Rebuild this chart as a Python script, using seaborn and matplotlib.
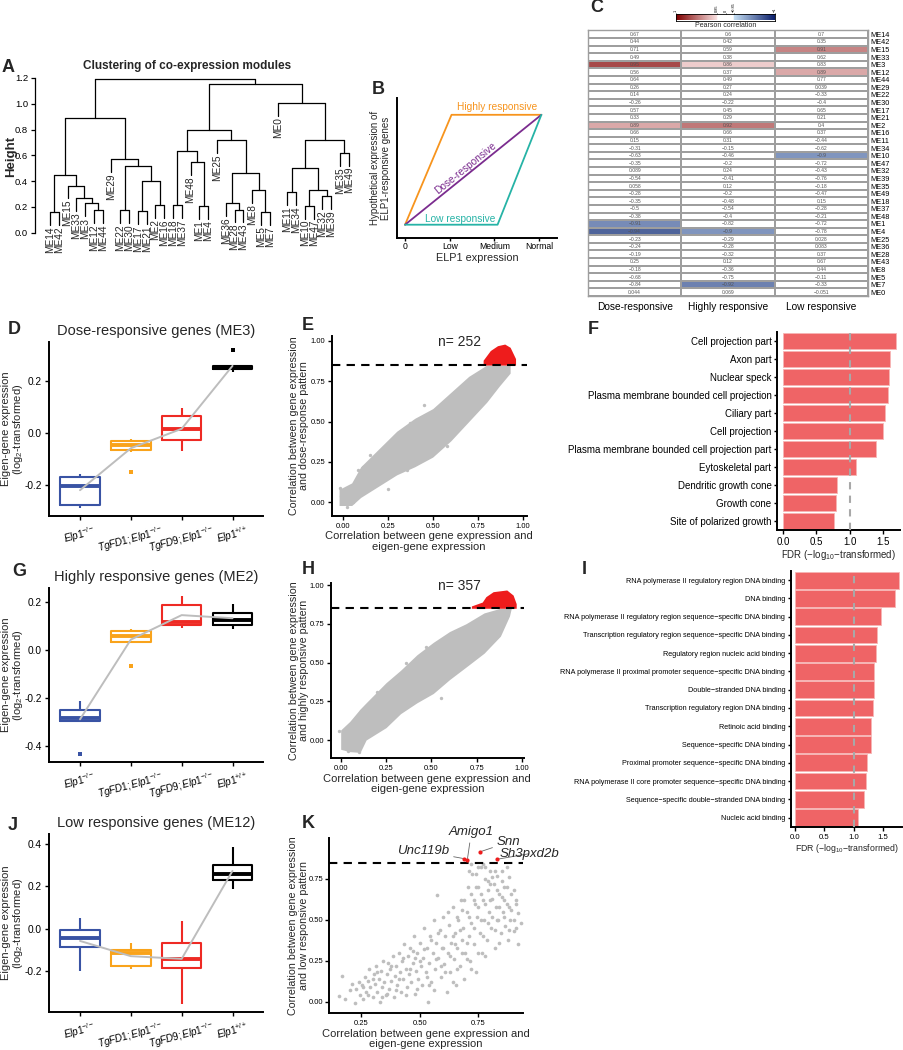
import numpy as np
import pandas as pd
import matplotlib.pyplot as plt
import seaborn as sns
from matplotlib.colors import LinearSegmentedColormap

# ---------------- data ----------------
# A: dendrogram of module eigengenes (leaf order + merges with heights)
leaf_order = ['ME14', 'ME42', 'ME15', 'ME33', 'ME3', 'ME12', 'ME44', 'ME29', 'ME22', 'ME30',
              'ME17', 'ME21', 'ME2', 'ME16', 'ME18', 'ME37', 'ME48', 'ME1', 'ME4', 'ME25',
              'ME36', 'ME28', 'ME43', 'ME8', 'ME5', 'ME7', 'ME0', 'ME11', 'ME34', 'ME10',
              'ME47', 'ME32', 'ME39', 'ME35', 'ME49']
merges = [('ME14', 'ME42', 0.16), ('ME12', 'ME44', 0.175), ('ME3', 'm1', 0.227),
          ('ME33', 'm2', 0.27), ('ME15', 'm3', 0.366), ('m0', 'm4', 0.45),
          ('ME22', 'ME30', 0.175), ('ME17', 'ME21', 0.168), ('ME2', 'ME16', 0.214),
          ('m7', 'm8', 0.40), ('m6', 'm9', 0.52), ('ME29', 'm10', 0.568),
          ('m5', 'm11', 0.89), ('ME18', 'ME37', 0.214), ('ME1', 'ME4', 0.21),
          ('ME48', 'm14', 0.55), ('m13', 'm15', 0.63), ('ME28', 'ME43', 0.18),
          ('ME36', 'm17', 0.232), ('ME5', 'ME7', 0.163), ('ME8', 'm19', 0.33),
          ('m18', 'm20', 0.46), ('ME25', 'm21', 0.72), ('m16', 'm22', 0.795),
          ('ME11', 'ME34', 0.315), ('ME10', 'ME47', 0.21), ('ME32', 'ME39', 0.284),
          ('m25', 'm26', 0.335), ('m24', 'm27', 0.503), ('ME35', 'ME49', 0.62),
          ('m28', 'm29', 0.72), ('ME0', 'm30', 1.006), ('m23', 'm31', 1.157),
          ('m12', 'm32', 1.19)]

# B: hypothetical response patterns
elp1_levels = ['0', 'Low', 'Medium', 'Normal']
highly_x, highly_y = [0, 1.04, 3.05], [0.095, 0.88, 0.88]
dose_x, dose_y = [0, 3.05], [0.095, 0.88]
low_x, low_y = [0, 2.07, 3.05], [0.095, 0.095, 0.88]

# C: module / pattern Pearson correlations
heat_modules = ['ME14', 'ME42', 'ME15', 'ME33', 'ME3', 'ME12', 'ME44', 'ME29', 'ME22', 'ME30',
                'ME17', 'ME21', 'ME2', 'ME16', 'ME11', 'ME34', 'ME10', 'ME47', 'ME32', 'ME39',
                'ME35', 'ME49', 'ME18', 'ME37', 'ME48', 'ME1', 'ME4', 'ME25', 'ME36', 'ME28',
                'ME43', 'ME8', 'ME5', 'ME7', 'ME0']
patterns = ['Dose-responsive', 'Highly responsive', 'Low responsive']
corr_dose = [0.67, 0.44, 0.71, 0.49, 0.95, 0.56, 0.64, 0.26, 0.14, -0.26, 0.57, 0.33, 0.89, 0.66,
             0.15, -0.31, -0.63, -0.35, 0.089, -0.54, 0.058, -0.28, -0.35, -0.5, -0.38, -0.91,
             -0.94, -0.23, -0.24, -0.19, 0.25, -0.18, -0.68, -0.84, 0.044]
corr_highly = [0.6, 0.42, 0.59, 0.38, 0.86, 0.37, 0.49, 0.27, 0.24, -0.22, 0.45, 0.29, 0.92, 0.66,
               0.31, -0.15, -0.46, -0.2, 0.24, -0.41, 0.12, -0.2, -0.48, -0.54, -0.4, -0.82,
               -0.9, -0.29, -0.28, -0.32, 0.12, -0.36, -0.75, -0.92, 0.069]
corr_low = [0.7, 0.35, 0.91, 0.62, 0.83, 0.89, 0.77, 0.039, -0.33, -0.4, 0.65, 0.21, 0.4, 0.37,
            -0.44, -0.62, -0.9, -0.72, -0.43, -0.76, -0.18, -0.47, 0.15, -0.28, -0.21, -0.72,
            -0.78, 0.028, 0.083, 0.37, 0.67, 0.44, -0.11, -0.33, -0.051]

# D, G, J: eigengene expression per genotype
genotypes = ['Elp1-/-', 'TgFD1;Elp1-/-', 'TgFD9;Elp1-/-', 'Elp1+/+']
geno_labels = [r'$\mathit{Elp1}^{-/-}$', r'$\mathit{TgFD1;Elp1}^{-/-}$',
               r'$\mathit{TgFD9;Elp1}^{-/-}$', r'$\mathit{Elp1}^{+/+}$']
me3_expr = [[-0.29, -0.277, -0.204, -0.17, -0.158],
            [-0.149, -0.072, -0.055, -0.047, -0.035, -0.027, -0.024],
            [-0.068, -0.027, 0.015, 0.067, 0.095],
            [0.236, 0.243, 0.247, 0.25, 0.254, 0.258, 0.32]]
me2_expr = [[-0.43, -0.30, -0.29, -0.28, -0.26, -0.24, -0.21],
            [-0.065, 0.03, 0.04, 0.06, 0.07, 0.09, 0.09],
            [0.095, 0.105, 0.12, 0.19, 0.225],
            [0.09, 0.105, 0.125, 0.155, 0.195]]
me12_expr = [[-0.197, -0.086, -0.044, -0.005, 0.05],
             [-0.189, -0.173, -0.114, -0.098, -0.067],
             [-0.353, -0.184, -0.142, -0.064, 0.039],
             [0.19, 0.23, 0.258, 0.303, 0.386]]

# E, H: dense gene clouds (edges)
e_x = [-0.02, 0.05, 0.1, 0.2, 0.3, 0.4, 0.5, 0.6, 0.7, 0.8, 0.87, 0.93]
e_lo = [-0.02, -0.02, 0.03, 0.1, 0.17, 0.22, 0.28, 0.38, 0.5, 0.62, 0.72, 0.8]
e_hi = [0.08, 0.12, 0.22, 0.33, 0.44, 0.52, 0.58, 0.68, 0.78, 0.85, 0.85, 0.85]
e_red_x = [0.78, 0.82, 0.86, 0.9, 0.93, 0.96]
e_red_hi = [0.88, 0.94, 0.97, 0.98, 0.96, 0.89]
e_pts_x = [-0.015, -0.01, 0.022, 0.03, 0.06, 0.087, 0.115, 0.15, 0.355, 0.374, 0.58, 0.45, 0.25]
e_pts_y = [0.09, 0.04, -0.03, 0.015, 0.0, 0.2, 0.22, 0.295, 0.2, 0.49, 0.35, 0.6, 0.08]

h_x = [0.0, 0.05, 0.107, 0.14, 0.25, 0.33, 0.42, 0.51, 0.6, 0.69, 0.79, 0.88, 0.93, 0.94]
h_lo = [-0.06, -0.075, -0.08, 0.0, 0.08, 0.17, 0.24, 0.3, 0.39, 0.47, 0.56, 0.67, 0.8, 0.85]
h_hi = [0.065, 0.12, 0.2, 0.24, 0.37, 0.45, 0.55, 0.63, 0.7, 0.75, 0.82, 0.85, 0.85, 0.85]
h_red_x = [0.72, 0.78, 0.8, 0.84, 0.915, 0.95, 0.967]
h_red_hi = [0.865, 0.89, 0.925, 0.957, 0.968, 0.935, 0.88]
h_pts_x = [-0.01, 0.02, 0.04, 0.1, 0.11, 0.2, 0.36, 0.47, 0.55]
h_pts_y = [0.06, -0.04, -0.07, -0.08, 0.19, 0.31, 0.5, 0.6, 0.27]

# K: low responsive genes
k_x = [0.155, 0.17, 0.18, 0.205, 0.21, 0.225, 0.23, 0.24, 0.245, 0.255, 0.26, 0.265, 0.27, 0.28,
       0.285, 0.29, 0.3, 0.305, 0.31, 0.315, 0.32, 0.325, 0.33, 0.335, 0.34, 0.345, 0.35, 0.355,
       0.36, 0.365, 0.37, 0.375, 0.38, 0.385, 0.39, 0.395, 0.4, 0.405, 0.41, 0.415, 0.42, 0.425,
       0.43, 0.435, 0.44, 0.445, 0.45, 0.455, 0.46, 0.465, 0.47, 0.475, 0.48, 0.485, 0.49, 0.495,
       0.5, 0.505, 0.51, 0.515, 0.52, 0.525, 0.53, 0.535, 0.54, 0.545, 0.55, 0.555, 0.56, 0.565,
       0.57, 0.575, 0.58, 0.585, 0.59, 0.595, 0.6, 0.605, 0.61, 0.615, 0.62, 0.625, 0.63, 0.635,
       0.64, 0.645, 0.65, 0.655, 0.66, 0.665, 0.67, 0.675, 0.68, 0.685, 0.69, 0.695, 0.7, 0.705,
       0.71, 0.715, 0.72, 0.725, 0.73, 0.735, 0.74, 0.745, 0.75, 0.755, 0.76, 0.765, 0.77, 0.775,
       0.78, 0.785, 0.79, 0.795, 0.8, 0.805, 0.81, 0.815, 0.82, 0.825, 0.83, 0.835, 0.84, 0.845,
       0.85, 0.855, 0.86, 0.865, 0.87, 0.875, 0.88, 0.885, 0.89, 0.9, 0.91, 0.92]
k_y = [0.035, 0.16, 0.02, 0.07, 0.11, -0.01, 0.08, 0.12, 0.04, 0.1, 0.02, 0.15, 0.06, 0.13,
       0.2, 0.09, 0.03, 0.17, 0.11, 0.22, 0.06, 0.14, 0.0, 0.19, 0.09, 0.25, 0.12, 0.04,
       0.17, 0.24, 0.08, 0.2, 0.13, 0.28, 0.03, 0.16, 0.22, 0.1, 0.3, 0.18, 0.06, 0.25,
       0.14, 0.35, 0.2, 0.09, 0.28, 0.17, 0.33, 0.12, 0.24, 0.4, 0.05, 0.19, 0.3, 0.14,
       0.36, 0.22, 0.1, 0.27, 0.45, 0.18, 0.33, 0.0, 0.24, 0.4, 0.12, 0.3, 0.5, 0.2,
       0.36, 0.65, 0.27, 0.44, 0.15, 0.33, 0.52, 0.23, 0.4, 0.06, 0.3, 0.47, 0.18, 0.36,
       0.58, 0.26, 0.42, 0.1, 0.33, 0.5, 0.22, 0.62, 0.38, 0.45, 0.14, 0.3, 0.55, 0.7,
       0.4, 0.25, 0.48, 0.78, 0.35, 0.6, 0.18, 0.52, 0.7, 0.42, 0.82, 0.3, 0.62, 0.5,
       0.75, 0.38, 0.68, 0.55, 0.8, 0.45, 0.63, 0.72, 0.33, 0.58, 0.77, 0.5, 0.66, 0.42,
       0.74, 0.55, 0.62, 0.46, 0.7, 0.38, 0.58, 0.5, 0.66, 0.43, 0.6, 0.35]
k_x_more = [0.36, 0.38, 0.41, 0.43, 0.44, 0.47, 0.49, 0.5, 0.52, 0.53, 0.55, 0.56, 0.57, 0.58,
            0.6, 0.61, 0.62, 0.63, 0.64, 0.65, 0.66, 0.67, 0.68, 0.69, 0.7, 0.7, 0.71, 0.72,
            0.72, 0.73, 0.74, 0.75, 0.75, 0.76, 0.77, 0.77, 0.78, 0.78, 0.79, 0.8, 0.8, 0.81,
            0.82, 0.82, 0.83, 0.84, 0.84, 0.85, 0.86, 0.86, 0.87, 0.88, 0.88, 0.89, 0.9, 0.9,
            0.91, 0.91, 0.92, 0.93, 0.3, 0.28, 0.26, 0.32, 0.34, 0.4, 0.46, 0.48, 0.54, 0.59,
            0.64, 0.66, 0.68, 0.73, 0.76, 0.79, 0.81, 0.83, 0.85, 0.87, 0.74, 0.71, 0.72, 0.75,
            0.78]
k_y_more = [0.05, 0.22, 0.14, 0.27, 0.04, 0.31, 0.08, 0.25, 0.32, 0.15, 0.38, 0.07, 0.26, 0.42,
            0.33, 0.18, 0.55, 0.28, 0.4, 0.35, 0.2, 0.44, 0.3, 0.62, 0.36, 0.26, 0.52, 0.66,
            0.2, 0.45, 0.78, 0.3, 0.58, 0.66, 0.4, 0.84, 0.6, 0.28, 0.48, 0.72, 0.62, 0.52,
            0.8, 0.44, 0.68, 0.58, 0.36, 0.8, 0.52, 0.7, 0.6, 0.44, 0.76, 0.56, 0.5, 0.68,
            0.45, 0.62, 0.54, 0.48, 0.14, 0.04, 0.09, 0.18, 0.03, 0.07, 0.2, 0.27, 0.1, 0.22,
            0.12, 0.52, 0.56, 0.62, 0.5, 0.74, 0.76, 0.5, 0.64, 0.82, 0.7, 0.8, 0.84, 0.82,
            0.82]
k_red_x = [0.689, 0.703, 0.756, 0.829]
k_red_y = [0.874, 0.866, 0.915, 0.87]
k_genes = ['Unc119b', 'Amigo1', 'Snn', 'Sh3pxd2b']
k_label_x = [0.514, 0.72, 0.88, 0.97]
k_label_y = [0.92, 1.035, 0.975, 0.905]

# F, I: GO enrichment
f_terms = ['Cell projection part', 'Axon part', 'Nuclear speck',
           'Plasma membrane bounded cell projection', 'Ciliary part', 'Cell projection',
           'Plasma membrane bounded cell projection part', 'Eytoskeletal part',
           'Dendritic growth cone', 'Growth cone', 'Site of polarized growth']
f_fdr = [1.69, 1.61, 1.585, 1.575, 1.525, 1.5, 1.39, 1.09, 0.81, 0.80, 0.765]
i_terms = ['RNA polymerase II regulatory region DNA binding', 'DNA binding',
           'RNA polymerase II regulatory region sequence\u2212specific DNA binding',
           'Transcription regulatory region sequence\u2212specific DNA binding',
           'Regulatory region nucleic acid binding',
           'RNA polymerase II proximal promoter sequence\u2212specific DNA binding',
           'Double\u2212stranded DNA binding', 'Transcription regulatory region DNA binding',
           'Retinoic acid binding', 'Sequence\u2212specific DNA binding',
           'Proximal promoter sequence\u2212specific DNA binding',
           'RNA polymerase II core promoter sequence\u2212specific DNA binding',
           'Sequence\u2212specific double\u2212stranded DNA binding', 'Nucleic acid binding']
i_fdr = [1.77, 1.70, 1.47, 1.39, 1.38, 1.35, 1.34, 1.33, 1.30, 1.30, 1.22, 1.21, 1.18, 1.07]

# ---------------- style ----------------
sns.set_theme(style='ticks')
plt.rcParams['font.family'] = ['Liberation Sans', 'DejaVu Sans']
plt.rcParams['mathtext.fontset'] = 'custom'
plt.rcParams['mathtext.rm'] = 'Liberation Sans'
plt.rcParams['mathtext.it'] = 'Liberation Sans:italic'
plt.rcParams['axes.edgecolor'] = 'black'
plt.rcParams['xtick.color'] = 'black'
plt.rcParams['ytick.color'] = 'black'

box_colors = ['#3953A4', '#F9A31B', '#EE2A24', '#000000']
bar_color = '#EF6466'
cloud_grey = '#BEBEBE'

W, H = 904, 1050
fig = plt.figure(figsize=(W / 100, H / 100), dpi=100)


def add_ax(x0, y0, x1, y1):
    return fig.add_axes([x0 / W, 1 - y1 / H, (x1 - x0) / W, (y1 - y0) / H])


def classic(ax, labelsize=7):
    sns.despine(ax=ax)
    for s in ['left', 'bottom']:
        ax.spines[s].set_linewidth(1.4)
        ax.spines[s].set_color('black')
    ax.tick_params(length=3, width=1, labelsize=labelsize, pad=2)


def letter(x, y, s):
    fig.text(x / W, 1 - y / H, s, fontsize=13, fontweight='bold', va='center', ha='left')


# ---------------- A: dendrogram ----------------
axA = add_ax(35, 75.4, 362, 265)
pos = {name: i for i, name in enumerate(leaf_order)}
heights = {}
hang = 0.1
for k, (a, b, h) in enumerate(merges):
    for c in (a, b):
        bottom = heights.get(c, h - hang)
        axA.plot([pos[c], pos[c]], [bottom, h], color='black', lw=0.9)
        if c in leaf_order:
            axA.text(pos[c], bottom - 0.01, c, rotation=90, ha='center', va='top',
                     fontsize=7.3, clip_on=False)
    axA.plot([pos[a], pos[b]], [h, h], color='black', lw=0.9)
    pos['m%d' % k] = (pos[a] + pos[b]) / 2
    heights['m%d' % k] = h
axA.set_xlim(-1.7, 35.5)
axA.set_ylim(-0.25, 1.22)
sns.despine(ax=axA, bottom=True)
axA.spines['left'].set_bounds(0, 1.2)
axA.spines['left'].set_linewidth(0.9)
axA.set_xticks([])
axA.set_yticks(np.arange(0, 1.21, 0.2))
axA.set_yticklabels(['%.1f' % v for v in np.arange(0, 1.21, 0.2)])
axA.tick_params(axis='y', labelsize=6.8, length=3, width=0.9, pad=2)
axA.set_ylabel('Height', fontsize=9.5, fontweight='bold')
axA.yaxis.set_label_coords(-0.056, 0.57)
fig.text(187 / W, 1 - 66 / H, 'Clustering of co-expression modules', fontsize=8.5,
         fontweight='bold', ha='center', va='center')
letter(2, 67, 'A')

# ---------------- B: response patterns ----------------
axB = add_ax(397, 98, 557, 238)
axB.plot(highly_x, highly_y, color='#F7941D', lw=1.3)
axB.plot(dose_x, dose_y, color='#7B2C8F', lw=1.3)
axB.plot(low_x, low_y, color='#26B3A6', lw=1.3)
axB.set_xlim(-0.18, 3.4)
axB.set_ylim(0, 1)
classic(axB, labelsize=6.2)
axB.set_yticks([])
axB.set_xticks(range(4))
axB.set_xticklabels(elp1_levels)
axB.tick_params(axis='x', length=2, pad=1)
axB.set_xlabel('ELP1 expression', fontsize=7.8, labelpad=1)
axB.set_ylabel('Hypothetical expression of\nELP1-responsive genes', fontsize=7, labelpad=4)
axB.text(2.05, 0.935, 'Highly responsive', color='#F7941D', fontsize=7.3, ha='center', va='center')
axB.text(1.23, 0.136, 'Low responsive', color='#26B3A6', fontsize=7.3, ha='center', va='center')
axB.text(1.36, 0.5, 'Dose-responsive', color='#7B2C8F', fontsize=7.3, ha='center', va='center',
         rotation=39)
letter(372, 90, 'B')

# ---------------- C: heatmap ----------------
axC = add_ax(588, 30.5, 868, 296)
corr_df = pd.DataFrame({patterns[0]: corr_dose, patterns[1]: corr_highly, patterns[2]: corr_low},
                       index=heat_modules)
annot = corr_df.map(lambda v: ('%g' % v).replace('-', '\u2212'))
heat_cmap = LinearSegmentedColormap.from_list(
    'heat', [(0, '#0B1F6B'), (0.075, '#C6DBEF'), (0.0751, 'white'), (0.9249, 'white'),
             (0.925, '#FBE6E6'), (1, '#7F0000')])
sns.heatmap(corr_df, cmap=heat_cmap, vmin=-1, vmax=1, annot=annot, fmt='',
            annot_kws={'size': 3.6, 'color': '#555555'}, linewidths=1.1, linecolor='#9E9E9E',
            cbar=False, xticklabels=True, yticklabels=True, ax=axC)
axC.yaxis.tick_right()
axC.set_yticklabels(heat_modules, rotation=0, fontsize=5.3)
axC.set_xticklabels(patterns, rotation=0, fontsize=7.3)
axC.tick_params(length=0, pad=1.5)
axC.tick_params(axis='x', pad=4)
for s in axC.spines.values():
    s.set_visible(True)
    s.set_color('#9E9E9E')
    s.set_linewidth(1)
letter(590, 8, 'C')

axCB = add_ax(676, 13.5, 775, 20.5)
cbar_cmap = LinearSegmentedColormap.from_list(
    'cb', [(0, '#7F0000'), (0.416, '#FBE3E3'), (0.417, 'white'), (0.583, 'white'),
           (0.584, '#C6E0F5'), (1, '#0B1F6B')])
axCB.imshow(np.linspace(0, 1, 300)[None, :], aspect='auto', cmap=cbar_cmap, extent=(0, 1, 0, 1))
axCB.xaxis.tick_top()
axCB.set_xticks([0, 0.417, 0.5, 0.583, 1])
axCB.set_xticklabels(['1', '0.85', '0', '\u22120.85', '\u22121'], rotation=90, fontsize=2.8)
axCB.set_yticks([])
axCB.tick_params(axis='x', length=1, width=0.5, pad=0.3)
axCB.xaxis.set_label_position('bottom')
axCB.set_xlabel('Pearson correlation', fontsize=5, labelpad=1)
for s in axCB.spines.values():
    s.set_linewidth(0.6)


# ---------------- D, G, J: box plots ----------------
def box_panel(ax, samples, title, yticks, ylim):
    df = pd.DataFrame({'genotype': np.repeat(genotypes, [len(s) for s in samples]),
                       'value': np.concatenate(samples)})
    sns.boxplot(data=df, x='genotype', y='value', hue='genotype', palette=box_colors,
                fill=False, width=0.78, linewidth=1.5, showfliers=False, showcaps=False,
                medianprops={'linewidth': 2.8}, legend=False, ax=ax)
    for i, s in enumerate(samples):
        s = np.asarray(s)
        q1, q3 = np.percentile(s, [25, 75])
        iqr = q3 - q1
        out = s[(s < q1 - 1.5 * iqr) | (s > q3 + 1.5 * iqr)]
        ax.scatter(np.full(len(out), i), out, color=box_colors[i], s=7, marker='s',
                   linewidths=0, zorder=4)
    means = df.groupby('genotype', sort=False)['value'].mean()
    ax.plot(range(4), means.values, color='#BDBDBD', lw=1.4, zorder=5)
    ax.set_xlim(-0.61, 3.6)
    ax.set_ylim(*ylim)
    classic(ax, labelsize=7.3)
    ax.set_yticks(yticks)
    ax.set_yticklabels(['%.1f' % v for v in yticks])
    ax.set_xticks(range(4))
    ax.set_xticklabels(geno_labels, rotation=15, fontsize=7.1)
    ax.set_xlabel('')
    ax.set_ylabel('Eigen-gene expression\n(log$_2$-transformed)', fontsize=8, linespacing=1.05)
    ax.yaxis.set_label_coords(-0.112, 0.5)
    ax.set_title(title, fontsize=10.5, pad=5)


axD = add_ax(49, 342, 263, 516)
box_panel(axD, me3_expr, 'Dose-responsive genes (ME3)', [-0.2, 0.0, 0.2], (-0.319, 0.35))
letter(8, 330, 'D')

axG = add_ax(49, 588, 263, 762)
box_panel(axG, me2_expr, 'Highly responsive genes (ME2)', [-0.4, -0.2, 0.0, 0.2], (-0.465, 0.26))
letter(12, 572, 'G')

axJ = add_ax(49, 834, 263, 1012)
box_panel(axJ, me12_expr, 'Low responsive genes (ME12)', [-0.2, 0.0, 0.2, 0.4], (-0.391, 0.447))
letter(8, 825, 'J')


# ---------------- E, H, K: gene scatter ----------------
def scatter_frame(ax, ylabel, xlim, ylim, xticks, ylab_x):
    ax.axhline(0.85, color='black', ls=(0, (4, 3)), lw=1.5, zorder=6)
    ax.set_xlim(*xlim)
    ax.set_ylim(*ylim)
    classic(ax, labelsize=5.5)
    ax.tick_params(axis='y', pad=1.5)
    ax.set_xticks(xticks)
    ax.set_xticklabels(['%.2f' % v for v in xticks])
    ax.set_yticks([0, 0.25, 0.5, 0.75, 1.0])
    ax.set_yticklabels(['0.00', '0.25', '0.50', '0.75', '1.00'])
    ax.set_xlabel('Correlation between gene expression and\neigen-gene expression', fontsize=8,
                  labelpad=1, linespacing=1.1)
    ax.set_ylabel(ylabel, fontsize=7.7, linespacing=1.1)
    ax.yaxis.set_label_coords(ylab_x, 0.5)


axE = add_ax(331.7, 336, 526.7, 516)
axE.fill_between(e_x, e_lo, e_hi, color=cloud_grey, lw=0)
sns.scatterplot(x=e_pts_x, y=e_pts_y, color=cloud_grey, s=6, linewidth=0, ax=axE)
axE.fill_between(e_red_x, 0.85, e_red_hi, color='#EE1C1C', lw=0, zorder=3)
scatter_frame(axE, 'Correlation between gene expression\nand dose-response pattern',
              (-0.061, 1.022), (-0.085, 1.03), [0, 0.25, 0.5, 0.75, 1.0], -0.114)
axE.text(0.65, 0.995, 'n= 252', fontsize=10, ha='center', va='center')
letter(302, 326, 'E')

axH = add_ax(330.7, 583, 524, 758.3)
axH.fill_between(h_x, h_lo, h_hi, color=cloud_grey, lw=0)
sns.scatterplot(x=h_pts_x, y=h_pts_y, color=cloud_grey, s=6, linewidth=0, ax=axH)
axH.fill_between(h_red_x, 0.85, h_red_hi, color='#EE1C1C', lw=0, zorder=3)
scatter_frame(axH, 'Correlation between gene expression\nand highly responsive pattern',
              (-0.055, 1.01), (-0.118, 1.013), [0, 0.25, 0.5, 0.75, 1.0], -0.11)
axH.text(0.654, 0.995, 'n= 357', fontsize=10, ha='center', va='center')
letter(302, 570, 'H')

axK = add_ax(329.3, 838, 522.7, 1013.3)
sns.scatterplot(x=k_x + k_x_more, y=k_y + k_y_more, color=cloud_grey, s=7, linewidth=0, ax=axK)
sns.scatterplot(x=k_red_x, y=k_red_y, color='#EE1C1C', s=9, linewidth=0, ax=axK, zorder=7)
scatter_frame(axK, 'Correlation between gene expression\nand low responsive pattern',
              (0.115, 0.939), (-0.07, 0.95), [0.25, 0.5, 0.75], -0.104)
axK.set_yticks([0, 0.25, 0.5, 0.75])
axK.set_yticklabels(['0.00', '0.25', '0.50', '0.75'])
for gx, gy, tx, ty, g in zip(k_red_x, k_red_y, k_label_x, k_label_y, k_genes):
    axK.annotate(g, xy=(gx, gy), xytext=(tx, ty), fontsize=9.5, fontstyle='italic',
                 ha='center', va='center', annotation_clip=False,
                 arrowprops=dict(arrowstyle='-', color='#666666', lw=0.6, shrinkA=1, shrinkB=1))
letter(302, 824, 'K')


# ---------------- F, I: GO bar charts ----------------
def bar_panel(ax, terms, fdr, labelsize):
    sns.barplot(x=fdr, y=terms, color=bar_color, width=0.92, edgecolor='#F7B5B5',
                linewidth=0.6, ax=ax, saturation=1)
    ax.axvline(1.0, color='#A8A8A8', ls=(0, (3.5, 3)), lw=1.5, zorder=5)
    classic(ax, labelsize=5.6)
    ax.tick_params(axis='y', labelsize=labelsize, length=2)
    ax.set_xticks([0, 0.5, 1.0, 1.5])
    ax.set_xticklabels(['0.0', '0.5', '1.0', '1.5'])
    ax.set_xlabel('FDR (\u2212log$_{10}$\u2212transformed)', fontsize=6.3, labelpad=1)
    ax.set_ylabel('')


axF = add_ax(777, 332, 900, 530)
bar_panel(axF, f_terms, f_fdr, 7)
axF.set_xlim(-0.09, 1.755)
axF.tick_params(axis='x', labelsize=7)
axF.xaxis.label.set_size(7)
letter(588, 330, 'F')

axI = add_ax(790.7, 571, 902, 826.7)
bar_panel(axI, i_terms, i_fdr, 5.2)
axI.set_xlim(-0.073, 1.82)
letter(582, 570, 'I')

fig.savefig('out.png', dpi=100)
